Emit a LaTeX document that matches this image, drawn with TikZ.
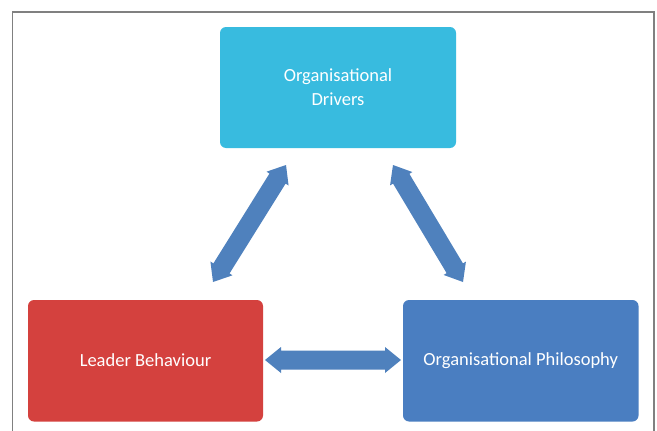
\documentclass[tikz,border=0pt]{standalone}
\usepackage{fontspec}
\setmainfont{Carlito}
\usetikzlibrary{calc}
\definecolor{topcyan}{RGB}{56,187,223}
\definecolor{redbox}{RGB}{212,65,62}
\definecolor{bluebox}{RGB}{74,126,193}
\definecolor{arrowblue}{RGB}{79,129,189}
\definecolor{framegrey}{RGB}{128,128,128}
\tikzset{
  box/.style={rounded corners=6pt, text=white, align=center,
    font=\fontsize{18.5}{24}\selectfont, inner sep=0pt},
  blockarrow/.style={fill=arrowblue}
}
\newcommand\dblblock[2]{%
  \fill[blockarrow] (#1)
    -- ($(#1)!16pt!(#2)!13pt!90:(#2)$)
    -- ($(#1)!16pt!(#2)!9.5pt!90:(#2)$)
    -- ($(#2)!16pt!(#1)!9.5pt!-90:(#1)$)
    -- ($(#2)!16pt!(#1)!13pt!-90:(#1)$)
    -- (#2)
    -- ($(#2)!16pt!(#1)!13pt!90:(#1)$)
    -- ($(#2)!16pt!(#1)!9.5pt!90:(#1)$)
    -- ($(#1)!16pt!(#2)!9.5pt!-90:(#2)$)
    -- ($(#1)!16pt!(#2)!13pt!-90:(#2)$)
    -- cycle;}
\begin{document}
\begin{tikzpicture}[x=1pt,y=-1pt]
\useasboundingbox (0,0) rectangle (657,431);
\fill[white] (0,0) rectangle (657,431);
% frame
\draw[framegrey, line width=1.3pt] (12.5,440) -- (12.5,12) -- (654,12) -- (654,440);
% boxes
\fill[topcyan, rounded corners=6pt] (220,27) rectangle (456,148);
\node[box] (drivers) at (338,87.5) {Organisational\\Drivers};
\fill[redbox, rounded corners=6pt] (28,300) rectangle (263,421.5);
\node[box] (leader) at (145.5,360.5) {Leader Behaviour};
\fill[bluebox, rounded corners=6pt] (403,300) rectangle (638.5,421.5);
\node[box] (philo) at (520.75,360.5) {Organisational Philosophy};
% arrow tips
\coordinate (lt) at (286,165);
\coordinate (lb) at (213,282);
\coordinate (rt) at (393,165);
\coordinate (rb) at (463,282);
\coordinate (hl) at (265,360);
\coordinate (hr) at (401,360);
\dblblock{lt}{lb}
\dblblock{rt}{rb}
\dblblock{hl}{hr}
\end{tikzpicture}
\end{document}
